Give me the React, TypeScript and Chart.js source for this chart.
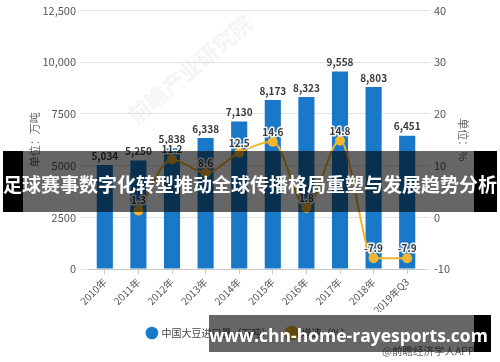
import React, { useEffect, useRef } from "react";
import { Chart, registerables } from "chart.js";

Chart.register(...registerables);

const categories = ["2010年", "2011年", "2012年", "2013年", "2014年", "2015年", "2016年", "2017年", "2018年", "2019年Q3"];
const imports = [5034, 5250, 5838, 6338, 7130, 8173, 8323, 9558, 8803, 6451];
const growth: (number | null)[] = [null, 1.3, 11.2, 8.6, 12.5, 14.6, 1.8, 14.8, -7.9, -7.9];
const leftTickLabels = ["0", "2500", "5000", "7500", "10,000", "12,500"];
const rightTickLabels = ["-10", "0", "10", "20", "30", "40"];

const FONT = '"Noto Sans CJK SC", "Noto Sans", sans-serif';
const BAR_COLOR = "#1a78c9";
const LINE_COLOR = "#f2b52c";

function fmt(n: number) {
  return String(n).replace(/\B(?=(\d{3})+(?!\d))/g, ",");
}

const labelPlugin = {
  id: "valueLabels",
  afterDatasetsDraw(chart: any) {
    const ctx = chart.ctx;
    ctx.save();
    ctx.textAlign = "center";
    ctx.textBaseline = "middle";
    ctx.font = `bold 10px ${FONT}`;
    ctx.fillStyle = "#3a3a3a";
    const barMeta = chart.getDatasetMeta(0);
    barMeta.data.forEach((el: any, i: number) => {
      ctx.fillText(fmt(imports[i]), el.x, el.y - 9);
    });
    const lineMeta = chart.getDatasetMeta(1);
    lineMeta.data.forEach((el: any, i: number) => {
      const v = growth[i];
      if (v == null) return;
      const t = v.toFixed(1);
      ctx.lineWidth = 3;
      ctx.strokeStyle = "rgba(255,255,255,0.9)";
      ctx.lineJoin = "round";
      ctx.strokeText(t, el.x, el.y - 10);
      ctx.fillStyle = "#3a3a3a";
      ctx.fillText(t, el.x, el.y - 10);
    });
    ctx.restore();
  },
};

export default function App() {
  const ref = useRef<HTMLCanvasElement>(null);

  useEffect(() => {
    if (!ref.current) return;
    const chart = new Chart(ref.current, {
      type: "bar",
      data: {
        labels: categories,
        datasets: [
          {
            type: "bar",
            label: "中国大豆进口量（万吨）",
            data: imports,
            backgroundColor: BAR_COLOR,
            barPercentage: 0.48,
            categoryPercentage: 1,
            yAxisID: "y",
            order: 2,
            pointStyle: "circle",
          } as any,
          {
            type: "line",
            label: "增速（%）",
            data: growth,
            borderColor: LINE_COLOR,
            backgroundColor: LINE_COLOR,
            borderWidth: 2,
            pointRadius: 4,
            pointBackgroundColor: LINE_COLOR,
            pointBorderColor: LINE_COLOR,
            cubicInterpolationMode: "monotone",
            yAxisID: "y1",
            order: 1,
            pointStyle: "circle",
          } as any,
        ],
      },
      options: {
        responsive: false,
        animation: false,
        layout: { padding: { left: 24, right: 26, top: 6, bottom: 14 } },
        plugins: {
          tooltip: { enabled: false },
          legend: {
            position: "bottom",
            labels: {
              usePointStyle: true,
              boxWidth: 9,
              boxHeight: 9,
              padding: 16,
              color: "#444",
              font: { family: FONT, size: 10 },
              sort: (a: any, b: any) => a.datasetIndex - b.datasetIndex,
            },
          },
        },
        scales: {
          x: {
            grid: {
              drawOnChartArea: false,
              offset: false,
              tickLength: 5,
              color: "#c8c8c8",
            },
            border: { color: "#c8c8c8" },
            ticks: {
              minRotation: 45,
              maxRotation: 45,
              color: "#555",
              font: { family: FONT, size: 10 },
              padding: 2,
            },
            afterFit: (s: any) => {
              s.height = 43;
            },
          },
          y: {
            position: "left",
            min: 0,
            max: 12500,
            ticks: {
              stepSize: 2500,
              color: "#555",
              padding: 4,
              font: { family: FONT, size: 11 },
              callback: (v: any) => leftTickLabels[Math.round(Number(v) / 2500)],
            },
            grid: { color: "#e3e3e3", tickLength: 8, drawTicks: true },
            border: { display: false },
            title: {
              display: true,
              text: "单位：万吨",
              color: "#666",
              font: { family: FONT, size: 11 },
            },
            afterFit: (s: any) => {
              s.width = 64;
            },
          },
          y1: {
            position: "right",
            min: -10,
            max: 40,
            ticks: {
              stepSize: 10,
              color: "#555",
              padding: 4,
              font: { family: FONT, size: 11 },
              callback: (v: any) => rightTickLabels[Math.round((Number(v) + 10) / 10)],
            },
            grid: { drawOnChartArea: false, color: "#e3e3e3", tickLength: 6, drawTicks: true },
            border: { display: false },
            title: {
              display: true,
              text: "单位：%",
              color: "#666",
              font: { family: FONT, size: 11 },
            },
            afterFit: (s: any) => {
              s.width = 50;
            },
          },
        },
      },
      plugins: [labelPlugin],
    });
    return () => chart.destroy();
  }, []);

  return (
    <div style={{ position: "absolute", left: 0, top: 0, width: 500, height: 362, background: "#fff", overflow: "hidden", fontFamily: FONT }}>
      <div
        style={{
          position: "absolute",
          left: 112,
          top: 52,
          fontSize: 22,
          fontWeight: 700,
          color: "rgba(200,208,220,0.22)",
          transform: "rotate(-40deg)",
          whiteSpace: "nowrap",
          pointerEvents: "none",
        }}
      >
        前瞻产业研究院
      </div>
      <canvas ref={ref} width={500} height={362} style={{ position: "absolute", left: 0, top: 0 }} />
      <div style={{ position: "absolute", left: 382, top: 343, fontSize: 10.5, color: "#666", whiteSpace: "nowrap" }}>
        @前瞻经济学人APP
      </div>
      {/* title banner */}
      <div style={{ position: "absolute", left: 3, top: 151, width: 20, height: 61, background: "#000" }} />
      <div style={{ position: "absolute", left: 23, top: 151, width: 451, height: 61, background: "rgba(0,0,0,0.6)" }} />
      <div style={{ position: "absolute", left: 474, top: 151, width: 23, height: 61, background: "#000" }} />
      <div
        style={{
          position: "absolute",
          left: 0,
          top: 151,
          width: 500,
          height: 61,
          display: "flex",
          alignItems: "center",
          justifyContent: "center",
          paddingTop: 3,
          boxSizing: "border-box",
          color: "#fff",
          fontWeight: 700,
          fontSize: 19,
          whiteSpace: "nowrap",
        }}
      >
        足球赛事数字化转型推动全球传播格局重塑与发展趋势分析
      </div>
      {/* url banner */}
      <div style={{ position: "absolute", left: 209, top: 315, width: 265, height: 37, background: "rgba(0,0,0,0.6)" }} />
      <div style={{ position: "absolute", left: 474, top: 315, width: 17, height: 37, background: "#000" }} />
      <div
        style={{
          position: "absolute",
          left: 219,
          top: 315,
          width: 259,
          height: 37,
          display: "flex",
          alignItems: "center",
          justifyContent: "center",
          paddingTop: 3,
          boxSizing: "border-box",
          color: "#fff",
          fontWeight: 700,
          fontSize: 17.5,
          fontFamily: '"Open Sans", "Noto Sans", sans-serif',
          whiteSpace: "nowrap",
        }}
      >
        www.chn-home-rayesports.com
      </div>
    </div>
  );
}
